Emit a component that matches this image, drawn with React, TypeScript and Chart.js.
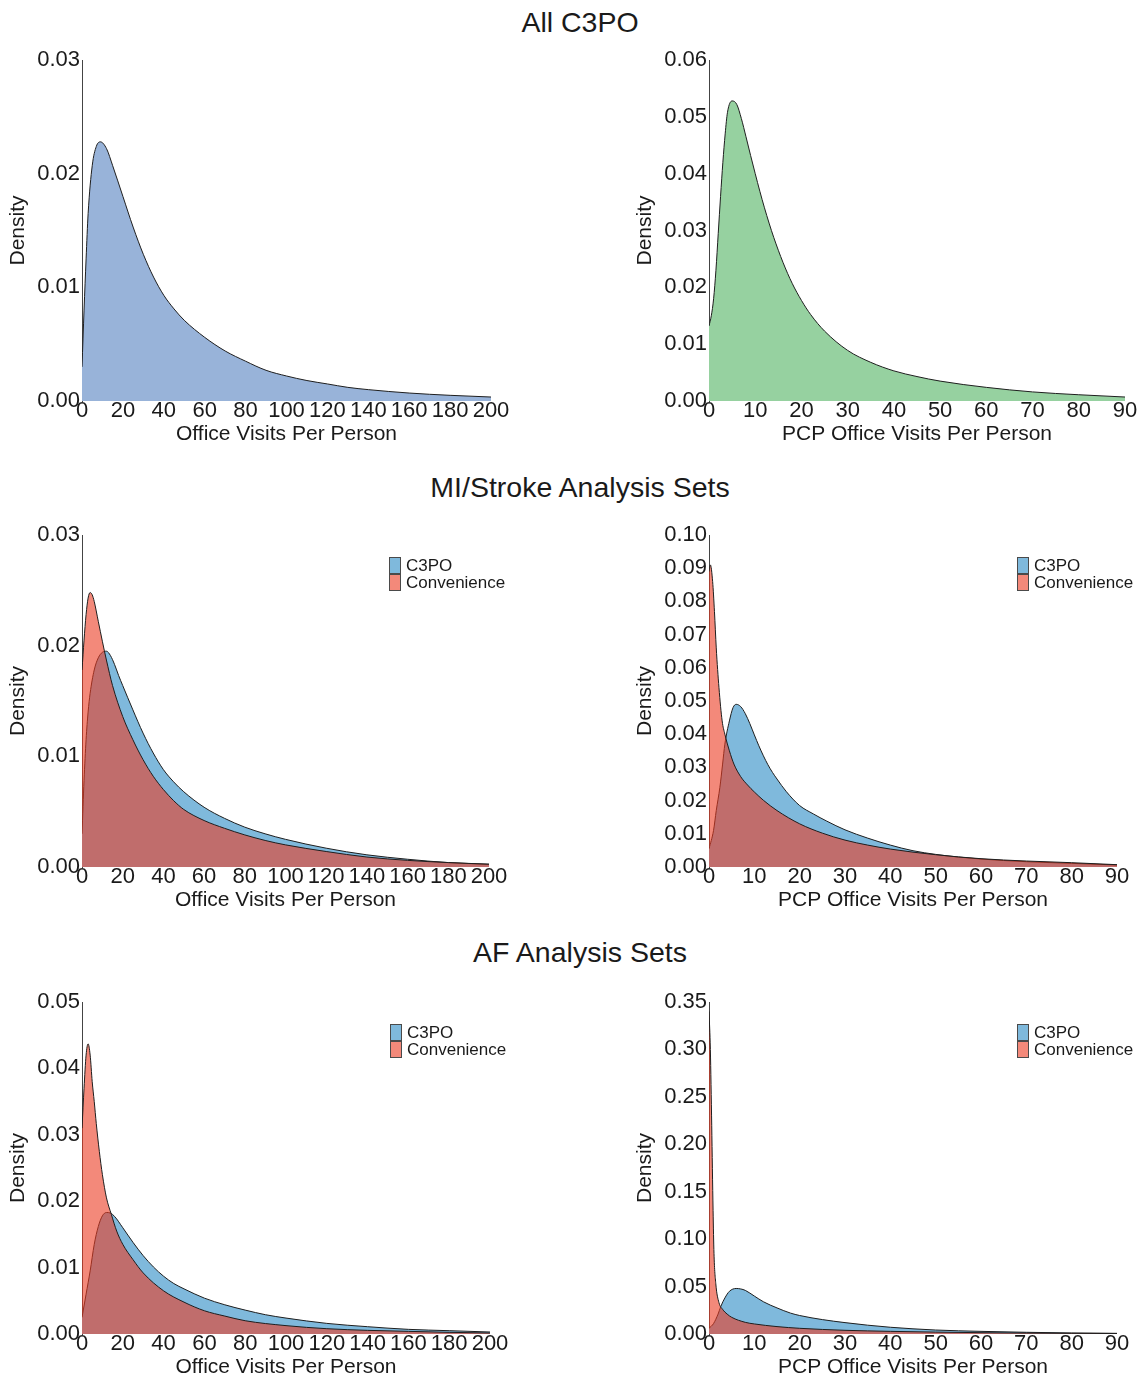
import React, { useEffect, useRef } from "react";
import { Chart, registerables } from "chart.js";

Chart.register(...registerables);

const FONT = '"Liberation Sans", Arial, Helvetica, sans-serif';
const INK = "#1a1a1a";

// ---------------- Data ----------------
// All C3PO – office visits
const allOfficeX = [0, 1, 2, 3, 5, 7, 9, 12, 15, 20, 25, 30, 35, 40, 45, 50, 60, 70, 80, 90, 100, 110, 120, 130, 140, 160, 180, 200];
const allOfficeDensity = [0.003, 0.008, 0.0125, 0.0165, 0.0207, 0.0224, 0.0228, 0.0222, 0.0207, 0.018, 0.0153, 0.0129, 0.0109, 0.0093, 0.0081, 0.0071, 0.0056, 0.0044, 0.0035, 0.0027, 0.0022, 0.0018, 0.0015, 0.0012, 0.001, 0.0007, 0.0005, 0.00035];

// All C3PO – PCP office visits
const allPcpX = [0, 0.5, 1, 1.5, 2, 2.5, 3, 3.5, 4, 5, 6, 7, 8, 9, 10, 11, 12, 13, 14, 16, 18, 20, 22, 25, 30, 35, 40, 45, 50, 60, 70, 80, 90];
const allPcpDensity = [0.0132, 0.015, 0.018, 0.023, 0.0295, 0.036, 0.042, 0.047, 0.0508, 0.0528, 0.0522, 0.0497, 0.0465, 0.0432, 0.04, 0.0369, 0.034, 0.0313, 0.0288, 0.0244, 0.0207, 0.0177, 0.0152, 0.0123, 0.0089, 0.0068, 0.0053, 0.0043, 0.0035, 0.0024, 0.0016, 0.0011, 0.0007];

// MI/Stroke – office visits
const miOfficeC3poX = [0, 1, 2, 3, 4, 6, 8, 10, 12, 14, 16, 18, 20, 25, 30, 35, 40, 45, 50, 60, 70, 80, 90, 100, 120, 140, 160, 180, 200];
const miOfficeC3po = [0.003, 0.0078, 0.0115, 0.014, 0.0157, 0.0178, 0.0189, 0.0194, 0.0195, 0.0191, 0.0183, 0.0173, 0.0164, 0.0142, 0.0121, 0.0103, 0.0088, 0.0077, 0.0068, 0.0054, 0.0044, 0.0036, 0.003, 0.0025, 0.0017, 0.0011, 0.0007, 0.0004, 0.00025];
const miOfficeConvX = [0, 1, 2, 3, 4, 5, 6, 8, 10, 12, 15, 20, 25, 30, 35, 40, 45, 50, 60, 70, 80, 90, 100, 120, 140, 160, 180, 200];
const miOfficeConv = [0.0178, 0.0205, 0.0228, 0.0243, 0.0248, 0.0246, 0.024, 0.0222, 0.0204, 0.0187, 0.0164, 0.0136, 0.0115, 0.0097, 0.0082, 0.007, 0.006, 0.0052, 0.0042, 0.0035, 0.0029, 0.0024, 0.002, 0.0014, 0.0009, 0.0006, 0.0004, 0.00025];

// MI/Stroke – PCP office visits
const miPcpC3poX = [0, 1, 1.6, 2.4, 3, 3.5, 4.5, 5.3, 6, 7, 8, 9, 10, 11, 12, 13, 14, 15, 17, 20, 23, 26, 30, 35, 40, 45, 50, 55, 60, 70, 80, 90];
const miPcpC3po = [0.0055, 0.011, 0.017, 0.024, 0.031, 0.037, 0.044, 0.048, 0.049, 0.0483, 0.0462, 0.0432, 0.0398, 0.0365, 0.0335, 0.0308, 0.0285, 0.0265, 0.0228, 0.0185, 0.016, 0.0138, 0.0112, 0.0087, 0.0066, 0.0049, 0.0038, 0.003, 0.0024, 0.0016, 0.0011, 0.0006];
const miPcpConvX = [0, 0.3, 0.8, 1.2, 1.6, 2.2, 2.9, 3.5, 4.5, 5.5, 7, 8.5, 10, 12, 15, 20, 25, 30, 35, 40, 50, 60, 70, 80, 90];
const miPcpConv = [0.089, 0.091, 0.086, 0.077, 0.066, 0.054, 0.044, 0.04, 0.035, 0.031, 0.0272, 0.0247, 0.0226, 0.0201, 0.017, 0.013, 0.0102, 0.0081, 0.0066, 0.0054, 0.0037, 0.0025, 0.0018, 0.0013, 0.0007];

// AF – office visits
const afOfficeC3poX = [0, 2, 4, 6, 8, 10, 12, 14, 16, 20, 25, 30, 35, 40, 45, 50, 60, 70, 80, 90, 100, 120, 140, 160, 180, 200];
const afOfficeC3po = [0.0025, 0.006, 0.0095, 0.0135, 0.0162, 0.0178, 0.0183, 0.0182, 0.0177, 0.016, 0.0138, 0.0118, 0.0101, 0.0087, 0.0076, 0.0068, 0.0054, 0.0044, 0.0036, 0.0029, 0.0024, 0.0016, 0.0011, 0.0007, 0.0005, 0.0003];
const afOfficeConvX = [0, 1, 2, 3, 4, 5, 6, 7, 8.5, 10, 12, 14.4, 17, 20, 25, 30, 40, 50, 60, 70, 80, 100, 120, 140, 160, 180, 200];
const afOfficeConv = [0.031, 0.037, 0.042, 0.0437, 0.042, 0.038, 0.035, 0.0317, 0.0275, 0.024, 0.0205, 0.018, 0.0155, 0.0135, 0.0112, 0.0092, 0.0065, 0.0048, 0.0035, 0.0027, 0.002, 0.00126, 0.0008, 0.00055, 0.0004, 0.00025, 0.00015];

// AF – PCP office visits
const afPcpC3poX = [0, 1, 2, 2.6, 3.5, 4.5, 6, 7, 8, 10, 12, 15, 18, 20, 25, 30, 35, 40, 50, 60, 70, 80, 90];
const afPcpC3po = [0.006, 0.011, 0.021, 0.029, 0.038, 0.045, 0.048, 0.0475, 0.046, 0.04, 0.034, 0.0275, 0.022, 0.0195, 0.0152, 0.012, 0.0093, 0.0071, 0.0042, 0.0028, 0.0018, 0.0011, 0.0007];
const afPcpConvX = [0, 0.3, 0.6, 0.9, 1.1, 1.5, 2.2, 3, 4, 5, 8, 10, 15, 20, 30, 40, 50, 60, 70, 80, 90];
const afPcpConv = [0.34, 0.3, 0.22, 0.13, 0.085, 0.053, 0.033, 0.026, 0.021, 0.0176, 0.0123, 0.0106, 0.0078, 0.006, 0.0039, 0.0028, 0.002, 0.0014, 0.001, 0.0007, 0.0005];

// Tick labels
const officeTicks = [0, 20, 40, 60, 80, 100, 120, 140, 160, 180, 200];
const pcpTicks = [0, 10, 20, 30, 40, 50, 60, 70, 80, 90];
const yTicks003 = [0, 0.01, 0.02, 0.03];
const yTicks006 = [0, 0.01, 0.02, 0.03, 0.04, 0.05, 0.06];
const yTicks010 = [0, 0.01, 0.02, 0.03, 0.04, 0.05, 0.06, 0.07, 0.08, 0.09, 0.1];
const yTicks005 = [0, 0.01, 0.02, 0.03, 0.04, 0.05];
const yTicks035 = [0, 0.05, 0.1, 0.15, 0.2, 0.25, 0.3, 0.35];

const sectionTitles = ["All C3PO", "MI/Stroke Analysis Sets", "AF Analysis Sets"];
const seriesNames = ["C3PO", "Convenience"];

// Colours
const SINGLE_BLUE = "#98b3d9";
const SINGLE_GREEN = "#96d1a0";
const C3PO_BLUE = "#7fb9dc";
const CONV_RED = "rgba(235,58,33,0.6)";

type Series = { label: string; xs: number[]; ys: number[]; fill: string; order: number };

type PanelProps = {
  left: number;
  top: number;
  width: number;
  height: number;
  padTop: number;
  padRight: number;
  xMax: number;
  xTicks: number[];
  yMax: number;
  yTicks: number[];
  xTitle: string;
  series: Series[];
  legend: boolean;
};

function Panel(p: PanelProps) {
  const ref = useRef<HTMLCanvasElement | null>(null);
  useEffect(() => {
    if (!ref.current) return;
    const legendPlugin = {
      id: "boxLegend",
      afterDraw(chart: any) {
        if (!p.legend) return;
        const { ctx, chartArea } = chart;
        const bx = chartArea.right - 100;
        const by = chartArea.top + 22;
        const bw = 12;
        const bh = 17;
        ctx.save();
        chart.data.datasets.forEach((ds: any, i: number) => {
          const y = by + i * bh;
          ctx.fillStyle = "#ffffff";
          ctx.fillRect(bx, y, bw, bh);
          ctx.fillStyle = ds.backgroundColor;
          ctx.fillRect(bx, y, bw, bh);
          ctx.strokeStyle = "#4a4a4a";
          ctx.lineWidth = 1;
          ctx.strokeRect(bx + 0.5, y + 0.5, bw - 1, bh - 1);
          ctx.fillStyle = INK;
          ctx.font = `17px ${FONT}`;
          ctx.textBaseline = "middle";
          ctx.textAlign = "left";
          ctx.fillText(ds.label, bx + 17, y + bh / 2 + 1);
        });
        ctx.restore();
      },
    };
    const chart = new Chart(ref.current, {
      type: "line",
      data: {
        datasets: p.series.map((s) => ({
          label: s.label,
          data: s.xs.map((x, i) => ({ x, y: s.ys[i] })),
          backgroundColor: s.fill,
          borderColor: "#1e1e1e",
          borderWidth: 1,
          fill: "origin",
          pointRadius: 0,
          cubicInterpolationMode: "monotone",
          order: s.order,
        })),
      },
      options: {
        animation: false,
        responsive: false,
        events: [],
        layout: { padding: { left: 0, right: p.padRight, top: p.padTop, bottom: 0 } },
        plugins: { legend: { display: false }, tooltip: { enabled: false }, title: { display: false } },
        scales: {
          x: {
            type: "linear",
            min: 0,
            max: p.xMax,
            afterBuildTicks: (sc: any) => {
              sc.ticks = p.xTicks.map((v) => ({ value: v }));
            },
            afterFit: (sc: any) => {
              sc.height = 45;
            },
            grid: { display: false, drawTicks: false },
            border: { display: false },
            ticks: {
              autoSkip: false,
              maxRotation: 0,
              padding: -1,
              color: INK,
              font: { family: FONT, size: 22, lineHeight: 1 },
              callback: (v: any) => String(v),
            },
            title: { display: true, text: p.xTitle, color: INK, font: { family: FONT, size: 21 }, padding: { top: 0, bottom: -1 } },
          },
          y: {
            min: 0,
            max: p.yMax,
            afterBuildTicks: (sc: any) => {
              sc.ticks = p.yTicks.map((v) => ({ value: v }));
            },
            afterFit: (sc: any) => {
              sc.width = 82;
            },
            grid: { display: false, drawTicks: false },
            border: { display: true, color: "#444", width: 1 },
            ticks: {
              padding: 2,
              color: INK,
              font: { family: FONT, size: 22 },
              callback: (v: any) => Number(v).toFixed(2),
            },
            title: { display: true, text: "Density", color: INK, font: { family: FONT, size: 21 }, padding: { top: 6, bottom: 0 } },
          },
        },
      } as any,
      plugins: [legendPlugin],
    });
    return () => chart.destroy();
  }, []);
  return (
    <canvas
      ref={ref}
      width={p.width}
      height={p.height}
      style={{ position: "absolute", left: p.left, top: p.top, width: p.width, height: p.height }}
    />
  );
}

const titleStyle = (top: number): React.CSSProperties => ({
  position: "absolute",
  left: 330,
  width: 500,
  top,
  textAlign: "center",
  fontFamily: FONT,
  fontSize: 28.5,
  lineHeight: "32px",
  color: INK,
  whiteSpace: "nowrap",
});

export default function App() {
  const LEFT = { left: 0, width: 560 };
  const RIGHT = { left: 627, width: 516 };
  return (
    <div style={{ position: "absolute", left: 0, top: 0, width: 1143, height: 1379, overflow: "hidden", background: "#fff" }}>
      <div style={titleStyle(6)}>{sectionTitles[0]}</div>
      <div style={titleStyle(471)}>{sectionTitles[1]}</div>
      <div style={titleStyle(936)}>{sectionTitles[2]}</div>

      <Panel
        {...LEFT}
        top={40}
        height={406}
        padTop={20}
        padRight={69}
        xMax={200}
        xTicks={officeTicks}
        yMax={0.03}
        yTicks={yTicks003}
        xTitle="Office Visits Per Person"
        legend={false}
        series={[{ label: "C3PO", xs: allOfficeX, ys: allOfficeDensity, fill: SINGLE_BLUE, order: 0 }]}
      />
      <Panel
        {...RIGHT}
        top={40}
        height={406}
        padTop={20}
        padRight={18}
        xMax={90}
        xTicks={pcpTicks}
        yMax={0.06}
        yTicks={yTicks006}
        xTitle="PCP Office Visits Per Person"
        legend={false}
        series={[{ label: "C3PO", xs: allPcpX, ys: allPcpDensity, fill: SINGLE_GREEN, order: 0 }]}
      />

      <Panel
        {...LEFT}
        top={505}
        height={407}
        padTop={30}
        padRight={71}
        xMax={200}
        xTicks={officeTicks}
        yMax={0.03}
        yTicks={yTicks003}
        xTitle="Office Visits Per Person"
        legend={true}
        series={[
          { label: seriesNames[0], xs: miOfficeC3poX, ys: miOfficeC3po, fill: C3PO_BLUE, order: 1 },
          { label: seriesNames[1], xs: miOfficeConvX, ys: miOfficeConv, fill: CONV_RED, order: 0 },
        ]}
      />
      <Panel
        {...RIGHT}
        top={505}
        height={407}
        padTop={30}
        padRight={26}
        xMax={90}
        xTicks={pcpTicks}
        yMax={0.1}
        yTicks={yTicks010}
        xTitle="PCP Office Visits Per Person"
        legend={true}
        series={[
          { label: seriesNames[0], xs: miPcpC3poX, ys: miPcpC3po, fill: C3PO_BLUE, order: 1 },
          { label: seriesNames[1], xs: miPcpConvX, ys: miPcpConv, fill: CONV_RED, order: 0 },
        ]}
      />

      <Panel
        {...LEFT}
        top={975}
        height={404}
        padTop={27}
        padRight={70}
        xMax={200}
        xTicks={officeTicks}
        yMax={0.05}
        yTicks={yTicks005}
        xTitle="Office Visits Per Person"
        legend={true}
        series={[
          { label: seriesNames[0], xs: afOfficeC3poX, ys: afOfficeC3po, fill: C3PO_BLUE, order: 1 },
          { label: seriesNames[1], xs: afOfficeConvX, ys: afOfficeConv, fill: CONV_RED, order: 0 },
        ]}
      />
      <Panel
        {...RIGHT}
        top={975}
        height={404}
        padTop={27}
        padRight={26}
        xMax={90}
        xTicks={pcpTicks}
        yMax={0.35}
        yTicks={yTicks035}
        xTitle="PCP Office Visits Per Person"
        legend={true}
        series={[
          { label: seriesNames[0], xs: afPcpC3poX, ys: afPcpC3po, fill: C3PO_BLUE, order: 1 },
          { label: seriesNames[1], xs: afPcpConvX, ys: afPcpConv, fill: CONV_RED, order: 0 },
        ]}
      />
    </div>
  );
}
